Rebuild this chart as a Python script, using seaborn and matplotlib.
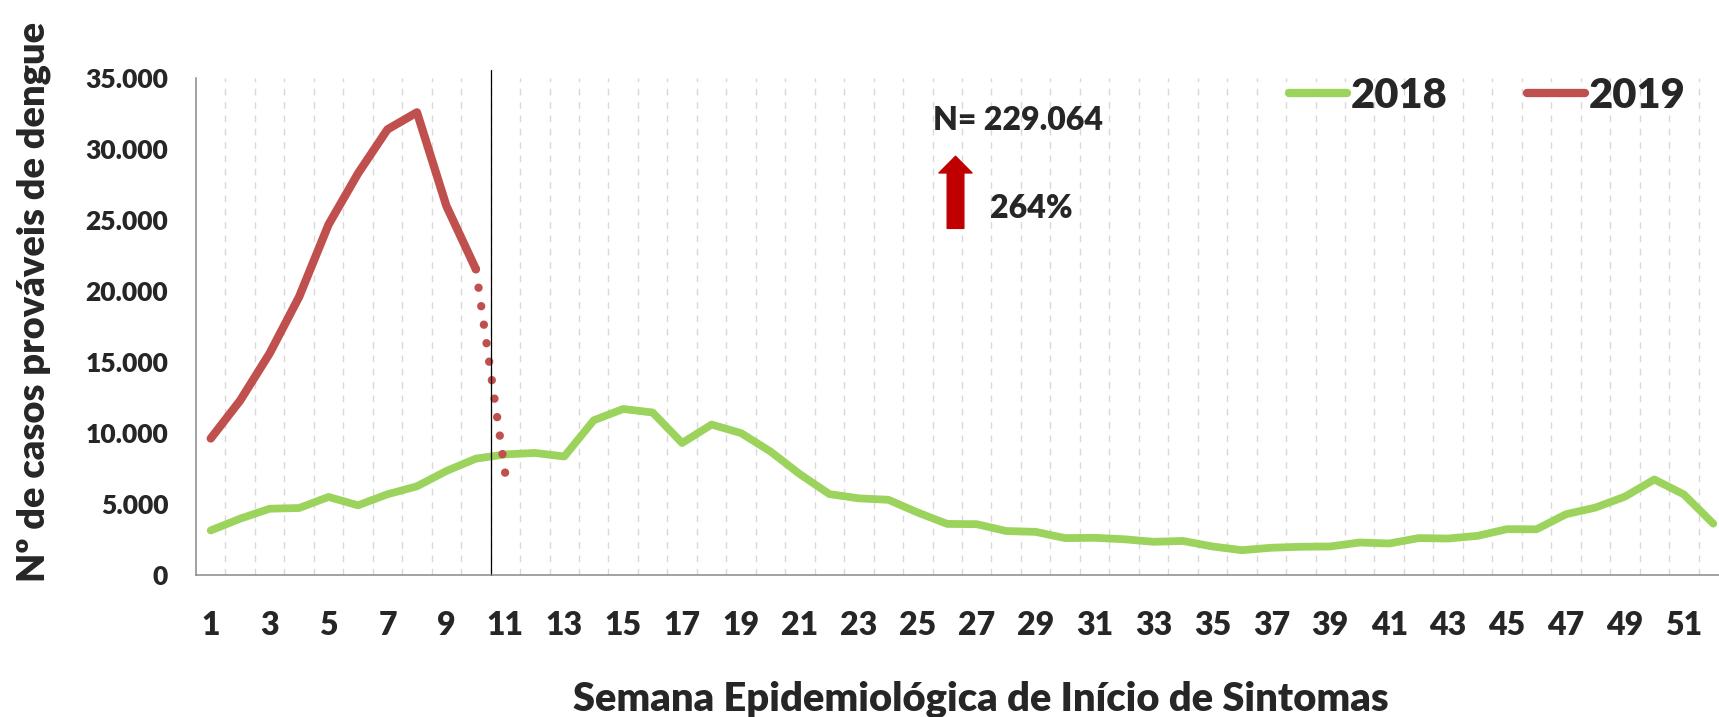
import matplotlib
matplotlib.use('Agg')
import matplotlib.pyplot as plt
from matplotlib.ticker import FuncFormatter
import seaborn as sns
import pandas as pd
import numpy as np

# casos prováveis de dengue por semana epidemiológica
semanas_2018 = list(range(1, 53))
casos_2018 = [3140, 3970, 4670, 4720, 5500, 4910, 5690, 6250, 7330, 8200,
              8500, 8600, 8350, 10900, 11700, 11450, 9300, 10600, 10000, 8700,
              7100, 5700, 5400, 5300, 4400, 3600, 3580, 3100, 3040, 2600,
              2620, 2520, 2340, 2400, 2010, 1750, 1920, 1990, 2010, 2290,
              2220, 2600, 2570, 2760, 3230, 3220, 4280, 4750, 5520, 6730,
              5680, 3620]
semanas_2019 = list(range(1, 11))
casos_2019 = [9620, 12300, 15620, 19600, 24700, 28300, 31400, 32600, 26000, 21550]
# semana 11 ainda em aberto -> pontilhado
semanas_2019_parcial = [10, 11]
casos_2019_parcial = [21550, 7100]

xticks = list(range(1, 52, 2))
yticks = list(range(0, 35001, 5000))

cor_2018 = '#9BD35C'
cor_2019 = '#C0504D'
peso = 'heavy'

df18 = pd.DataFrame({'semana': semanas_2018, 'casos': casos_2018})
df19 = pd.DataFrame({'semana': semanas_2019, 'casos': casos_2019})
df19p = pd.DataFrame({'semana': semanas_2019_parcial, 'casos': casos_2019_parcial})

sns.set_style('white')
plt.rcParams['font.family'] = ['Lato', 'DejaVu Sans']
plt.rcParams['font.weight'] = peso

W, H = 1719, 717
fig = plt.figure(figsize=(W / 100, H / 100), dpi=100)
ax = fig.add_axes([196 / W, (H - 575) / H, 1532 / W, (575 - 78.3) / H])

sns.lineplot(data=df18, x='semana', y='casos', color=cor_2018, lw=5.6,
             label='2018', ax=ax, solid_capstyle='round', solid_joinstyle='round')
sns.lineplot(data=df19, x='semana', y='casos', color=cor_2019, lw=6.0,
             label='2019', ax=ax, solid_capstyle='round', solid_joinstyle='round')
lw_p = 6.0
sns.lineplot(data=df19p, x='semana', y='casos', color=cor_2019, lw=lw_p,
             legend=False, ax=ax, linestyle=(0, (0.01, 13.45 / lw_p - 0.01)),
             dash_capstyle='round')

ax.set_xlim(0.5, 52.5)
ax.set_ylim(0, 35000)

# grade vertical tracejada entre as semanas
ax.set_xticks(xticks)
ax.set_xticks(np.arange(1.5, 52, 1), minor=True)
ax.grid(False)
ax.grid(True, which='minor', axis='x', color='#D9D9D9', lw=1.0,
        linestyle=(0, (4.8, 4.8)))
ax.set_yticks(yticks)
ax.yaxis.set_major_formatter(FuncFormatter(lambda v, p: f'{int(v):,}'.replace(',', '.')))

ax.tick_params(axis='x', which='both', length=0, pad=26, labelsize=23)
ax.tick_params(axis='y', which='both', length=0, pad=20, labelsize=19)
for s in ['top', 'right']:
    ax.spines[s].set_visible(False)
for s in ['left', 'bottom']:
    ax.spines[s].set_color('#898989')
    ax.spines[s].set_linewidth(1.1)

ax.axvline(10.5, ymin=0, ymax=1.0167, color='black', lw=0.9, clip_on=False)

ax.set_xlabel('Semana Epidemiológica de Início de Sintomas', fontsize=28.7, fontweight=peso)
ax.xaxis.label.set_va('baseline')
ax.xaxis.set_label_coords(981 / W, 1 - 711 / H, transform=fig.transFigure)
ax.set_ylabel('Nº de casos prováveis de dengue', fontsize=27.4, fontweight=peso)
ax.yaxis.label.set_va('baseline')
ax.yaxis.set_label_coords(45 / W, 1 - 302 / H, transform=fig.transFigure)

ax.text(25.5, 31388, 'N= 229.064', fontsize=23, fontweight=peso, ha='left', va='baseline')
ax.text(27.44, 25176, '264%', fontsize=23, fontweight=peso, ha='left', va='baseline')
ax.annotate('', xy=(26.28, 29505), xytext=(26.28, 24425),
            arrowprops=dict(arrowstyle='simple,head_length=0.6,head_width=1.19,tail_width=0.6',
                            color='#C00000', shrinkA=0, shrinkB=0, mutation_scale=20))

leg = ax.legend(loc='center left', bbox_to_anchor=(1289 / W, 1 - 95.5 / H),
                bbox_transform=fig.transFigure, ncol=2, frameon=False,
                fontsize=30, borderpad=0, borderaxespad=0, handlelength=1.39,
                handletextpad=0.1, columnspacing=1.9)
for t in leg.get_texts():
    t.set_fontweight(peso)
for l in leg.get_lines():
    l.set_linewidth(6)
    l.set_solid_capstyle('round')

fig.savefig('out.png', dpi=100)
